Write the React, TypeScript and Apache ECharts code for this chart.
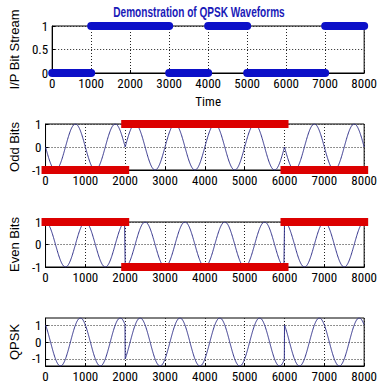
import { useEffect, useRef } from 'react';
import * as echarts from 'echarts';

// Input bit stream, one bit per 1000 time units
const BITS = [0, 1, 1, 0, 1, 0, 0, 1];
const BIT_DURATION = 1000;
const CARRIER_PERIOD = 1000;
const SAMPLE_STEP = 5;

const X_MIN = 0;
const X_MAX = 8000;
const X_STEP = 1000;

const TITLE = 'Demonstration of QPSK Waveforms';
const X_NAME = 'Time';
const Y_NAMES = ['I/P Bit Stream', 'Odd Bits', 'Even Bits', 'QPSK'];
const QPSK_TICKS = [-1, 0, 1];

const FONT_NARROW = '"Roboto Condensed", "Liberation Sans Narrow", "DejaVu Sans Condensed", "Liberation Sans", sans-serif';
const FONT_REG = '"Liberation Sans", Arial, sans-serif';

const BLUE = '#0c10c8';
const RED = '#dc0000';
const WAVE = '#35358c';

// NRZ levels: 0 -> -1, 1 -> +1, split into odd/even positioned bits
const nrz = (b: number) => (b ? 1 : -1);
const ODD_LEVELS = BITS.filter((_, i) => i % 2 === 0).map(nrz);
const EVEN_LEVELS = BITS.filter((_, i) => i % 2 === 1).map(nrz);

type Pt = [number, number | string];

// Horizontal runs of equal values, broken where the value changes
function runs(values: number[], span: number): Pt[] {
  const out: Pt[] = [];
  let s = 0;
  for (let i = 1; i <= values.length; i++) {
    if (i === values.length || values[i] !== values[s]) {
      out.push([s * span, values[s]], [i * span, values[s]]);
      if (i < values.length) out.push([i * span, '-']);
      s = i;
    }
  }
  return out;
}

// Carrier-modulated channels, one symbol = two bits
function channel(kind: 'odd' | 'even' | 'qpsk'): Pt[] {
  const out: Pt[] = [];
  const symbolSpan = 2 * BIT_DURATION;
  for (let k = 0; k < ODD_LEVELS.length; k++) {
    for (let t = k * symbolSpan; t <= (k + 1) * symbolSpan; t += SAMPLE_STEP) {
      const ph = (2 * Math.PI * t) / CARRIER_PERIOD;
      const o = ODD_LEVELS[k] * Math.sin(ph);
      const e = EVEN_LEVELS[k] * Math.cos(ph);
      out.push([t, kind === 'odd' ? o : kind === 'even' ? e : o + e]);
    }
  }
  return out;
}

const GRIDS = [
  { left: 32, right: 14, top: 26, height: 47 },
  { left: 32, right: 14, top: 124, height: 46 },
  { left: 32, right: 14, top: 222, height: 45 },
  { left: 32, right: 14, top: 318, height: 48 },
];

const dotted = { color: '#222', type: [1, 2] as number[], width: 1 };
const plain = (v: number) => String(v);

function xAxis(i: number) {
  return {
    type: 'value',
    gridIndex: i,
    min: X_MIN,
    max: X_MAX,
    interval: X_STEP,
    name: i === 0 ? X_NAME : '',
    nameLocation: 'middle',
    nameGap: 22,
    nameTextStyle: { color: '#000', fontFamily: FONT_NARROW, fontSize: 13 },
    axisLine: { show: true, onZero: false, lineStyle: { color: '#000', width: 1 } },
    axisTick: { show: true, inside: true, length: 3, lineStyle: { color: '#000' } },
    axisLabel: { color: '#000', fontFamily: FONT_NARROW, fontSize: 13, margin: 4, formatter: plain },
    splitLine: { show: true, lineStyle: dotted },
  };
}

function yAxis(i: number, min: number, max: number, interval?: number) {
  return {
    type: 'value',
    gridIndex: i,
    min,
    max,
    interval,
    name: Y_NAMES[i],
    nameLocation: 'middle',
    nameGap: 17,
    nameTextStyle: { color: '#000', fontFamily: FONT_REG, fontSize: 13 },
    axisLine: { show: true, onZero: false, lineStyle: { color: '#000', width: 1 } },
    axisTick: {
      show: true,
      inside: true,
      length: 3,
      lineStyle: { color: '#000' },
      ...(interval ? {} : { customValues: QPSK_TICKS }),
    },
    axisLabel: {
      color: '#000',
      fontFamily: FONT_NARROW,
      fontSize: 13,
      margin: 4,
      formatter: plain,
      ...(interval ? {} : { customValues: QPSK_TICKS }),
    },
    splitLine: { show: true, lineStyle: dotted },
  };
}

export default function App() {
  const ref = useRef<HTMLDivElement>(null);

  useEffect(() => {
    if (!ref.current) return;
    const chart = echarts.init(ref.current, null, { renderer: 'svg' });

    const option = {
      animation: false,
      backgroundColor: '#fff',
      grid: GRIDS.map((g) => ({ ...g, show: true, borderColor: '#000', borderWidth: 1, backgroundColor: '#fff' })),
      xAxis: [0, 1, 2, 3].map(xAxis),
      yAxis: [
        yAxis(0, 0, 1, 0.5),
        yAxis(1, -1, 1, 1),
        yAxis(2, -1, 1, 1),
        yAxis(3, -Math.SQRT2, Math.SQRT2),
      ],
      graphic: [
        {
          type: 'text',
          x: 199,
          y: 12,
          scaleX: 0.72,
          style: {
            text: TITLE,
            align: 'center',
            verticalAlign: 'middle',
            fill: '#1a1ab8',
            font: `bold 14px ${FONT_REG}`,
          },
        },
      ],
      series: [
        {
          type: 'line',
          xAxisIndex: 0,
          yAxisIndex: 0,
          data: runs(BITS, BIT_DURATION),
          showSymbol: false,
          clip: false,
          z: 5,
          lineStyle: { color: BLUE, width: 8, cap: 'round' },
        },
        {
          type: 'line',
          xAxisIndex: 1,
          yAxisIndex: 1,
          data: channel('odd'),
          showSymbol: false,
          z: 3,
          lineStyle: { color: WAVE, width: 1 },
        },
        {
          type: 'line',
          xAxisIndex: 1,
          yAxisIndex: 1,
          data: runs(ODD_LEVELS, 2 * BIT_DURATION),
          showSymbol: false,
          clip: false,
          z: 5,
          lineStyle: { color: RED, width: 8, cap: 'square' },
        },
        {
          type: 'line',
          xAxisIndex: 2,
          yAxisIndex: 2,
          data: channel('even'),
          showSymbol: false,
          z: 3,
          lineStyle: { color: WAVE, width: 1 },
        },
        {
          type: 'line',
          xAxisIndex: 2,
          yAxisIndex: 2,
          data: runs(EVEN_LEVELS, 2 * BIT_DURATION),
          showSymbol: false,
          clip: false,
          z: 5,
          lineStyle: { color: RED, width: 8, cap: 'square' },
        },
        {
          type: 'line',
          xAxisIndex: 3,
          yAxisIndex: 3,
          data: channel('qpsk'),
          showSymbol: false,
          z: 3,
          lineStyle: { color: WAVE, width: 1 },
        },
      ],
    };

    chart.setOption(option as any);
    return () => chart.dispose();
  }, []);

  return (
    <div
      ref={ref}
      style={{ position: 'absolute', left: 0, top: 0, width: 380, height: 388 }}
    />
  );
}
